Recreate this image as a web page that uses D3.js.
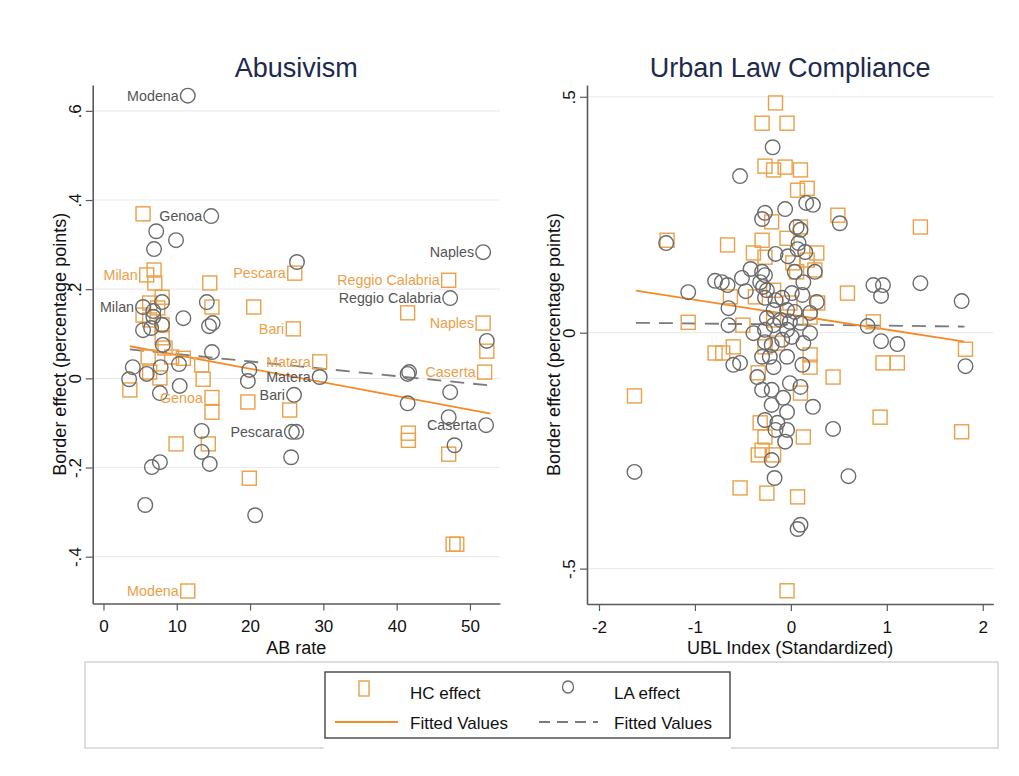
<!DOCTYPE html>
<html>
<head>
<meta charset="utf-8">
<script src="https://cdn.jsdelivr.net/npm/d3@7"></script>
<style>
  body { margin: 0; background: #fff; }
  svg { display: block; font-family: "Liberation Sans", Arial, Helvetica, sans-serif; }
</style>
</head>
<body>
<svg id="chart" width="1019" height="776"></svg>
<script>
// ---- data: [x, y, label] ----
// Abusivism panel (x = AB rate)
const hcAB = [
  [5.4, 0.369], [5.9, 0.232, "Milan"], [6.9, 0.243], [7.0, 0.214], [14.5, 0.214],
  [26.1, 0.236, "Pescara"], [47.1, 0.220, "Reggio Calabria"], [41.5, 0.147], [20.5, 0.160],
  [14.8, 0.160], [6.3, 0.169], [8.0, 0.182], [7.4, 0.158], [25.9, 0.111, "Bari"],
  [51.8, 0.124, "Naples"], [52.3, 0.061], [52.0, 0.014, "Caserta"], [29.5, 0.037, "Matera"],
  [5.4, 0.142], [6.3, 0.131], [8.0, 0.120], [8.0, 0.091], [8.4, 0.068], [6.1, 0.048],
  [9.3, 0.048], [10.9, 0.045], [13.4, 0.030], [13.6, -0.002], [7.7, 0.001], [3.6, -0.026],
  [6.3, 0.014], [14.8, -0.043, "Genoa"], [14.8, -0.076], [19.7, -0.053], [25.4, -0.071],
  [41.6, -0.123], [41.6, -0.139], [47.1, -0.170], [9.9, -0.147], [14.3, -0.147],
  [19.9, -0.224], [11.5, -0.477, "Modena"], [47.7, -0.372], [48.2, -0.372]
];
const laAB = [
  [11.5, 0.634, "Modena"], [14.7, 0.364, "Genoa"], [7.2, 0.330], [9.9, 0.310], [6.9, 0.290],
  [51.8, 0.283, "Naples"], [26.4, 0.261], [47.3, 0.180, "Reggio Calabria"], [5.4, 0.160, "Milan"],
  [6.8, 0.151], [8.0, 0.171], [6.8, 0.138], [5.4, 0.108], [6.5, 0.113], [8.0, 0.120],
  [10.9, 0.135], [14.1, 0.171], [14.4, 0.117], [14.9, 0.124], [8.1, 0.075], [14.8, 0.059],
  [4.0, 0.025], [5.9, 0.010], [7.8, 0.025], [10.3, 0.032], [3.5, -0.002], [7.7, -0.033],
  [10.4, -0.017], [19.9, 0.019], [19.7, -0.006], [29.5, 0.003, "Matera"], [26.0, -0.037, "Bari"],
  [41.7, 0.014], [41.5, 0.010], [47.3, -0.031], [52.3, 0.084], [41.5, -0.056], [47.1, -0.087],
  [52.2, -0.105, "Caserta"], [25.7, -0.120, "Pescara"], [26.3, -0.120], [13.4, -0.118],
  [13.4, -0.165], [14.5, -0.192], [6.6, -0.199], [7.7, -0.188], [25.6, -0.177], [47.9, -0.150],
  [5.7, -0.284], [20.7, -0.307]
];
const hcFitAB = [[3.6, 0.072], [52.8, -0.079]];
const laFitAB = [[3.6, 0.065], [52.8, -0.016]];

// Urban Law Compliance panel (x = UBL index)
const hcUBL = [
  [-0.16, 0.487], [-0.30, 0.444], [-0.04, 0.444], [-0.27, 0.353], [-0.18, 0.345], [-0.06, 0.351],
  [0.10, 0.345], [0.07, 0.302], [0.17, 0.306], [0.49, 0.249], [-0.66, 0.186], [-0.30, 0.196],
  [-0.20, 0.235], [-0.04, 0.200], [0.10, 0.224], [-0.39, 0.169], [-0.27, 0.160], [0.27, 0.169],
  [0.02, 0.148], [0.17, 0.154], [0.06, 0.129], [0.25, 0.133], [0.59, 0.084], [-0.63, 0.076],
  [-0.37, 0.076], [-0.18, 0.090], [-0.01, 0.063], [0.28, 0.063], [-1.07, 0.022], [-0.50, 0.016],
  [-0.18, 0.027], [0.20, 0.033], [-0.79, -0.043], [-0.71, -0.043], [-0.60, -0.030], [-0.27, -0.030],
  [-0.14, -0.022], [0.20, -0.047], [0.20, -0.073], [0.44, -0.094], [-0.34, -0.085], [0.10, -0.128],
  [-0.32, -0.191], [0.13, -0.221], [-0.27, -0.221], [-0.34, -0.259], [-0.30, -0.249], [-0.18, -0.259],
  [-0.53, -0.329], [-0.25, -0.340], [0.07, -0.348], [-0.04, -0.547], [-1.29, 0.196], [-1.63, -0.134],
  [1.35, 0.224], [0.86, 0.023], [1.82, -0.035], [0.96, -0.064], [1.11, -0.064], [0.93, -0.179],
  [1.78, -0.210]
];
const laUBL = [
  [-0.19, 0.393], [-0.53, 0.332], [0.16, 0.275], [0.23, 0.271], [-0.06, 0.262], [-0.27, 0.254],
  [-0.30, 0.241], [0.51, 0.232], [0.06, 0.224], [0.10, 0.218], [0.08, 0.190], [0.07, 0.177],
  [0.15, 0.171], [-0.16, 0.167], [-0.03, 0.162], [-0.42, 0.135], [-0.30, 0.129], [-0.27, 0.122],
  [0.04, 0.129], [0.25, 0.129], [-0.79, 0.110], [-0.72, 0.107], [-0.66, 0.101], [-0.51, 0.116],
  [-0.47, 0.088], [-0.32, 0.107], [-0.29, 0.097], [-0.25, 0.090], [0.13, 0.107], [-0.27, 0.074],
  [-0.16, 0.069], [-0.09, 0.074], [0.01, 0.084], [0.12, 0.080], [0.27, 0.065], [-1.07, 0.086],
  [-0.65, 0.052], [-0.18, 0.048], [-0.04, 0.048], [0.04, 0.044], [0.20, 0.042], [-0.25, 0.031],
  [-0.11, 0.027], [-0.01, 0.023], [0.10, 0.021], [-0.65, 0.016], [-0.39, -0.001], [-0.27, 0.006],
  [-0.18, 0.016], [-0.04, 0.006], [0.20, -0.001], [-0.27, -0.020], [-0.20, -0.026], [-0.09, -0.015],
  [0.01, -0.009], [0.13, -0.022], [-0.30, -0.051], [-0.22, -0.051], [-0.04, -0.051], [-0.60, -0.068],
  [-0.53, -0.064], [-0.18, -0.073], [0.12, -0.068], [-0.35, -0.094], [-0.01, -0.107], [0.10, -0.115],
  [-0.30, -0.121], [-0.20, -0.121], [-0.08, -0.138], [-0.20, -0.153], [-0.04, -0.168], [0.23, -0.157],
  [-0.27, -0.185], [-0.14, -0.191], [-0.04, -0.206], [-0.06, -0.231], [-0.16, -0.206], [0.44, -0.204],
  [-0.20, -0.270], [-0.17, -0.308], [0.60, -0.304], [0.10, -0.407], [0.07, -0.416], [-1.30, 0.190],
  [-1.63, -0.295], [0.86, 0.101], [0.96, 0.101], [0.94, 0.078], [1.35, 0.105], [1.78, 0.067],
  [0.80, 0.014], [0.94, -0.018], [1.11, -0.024], [1.82, -0.071]
];
const hcFitUBL = [[-1.615, 0.089], [1.81, -0.019]];
const laFitUBL = [[-1.615, 0.021], [1.81, 0.013]];

const yTicksAB = [-0.4, -0.2, 0, 0.2, 0.4, 0.6];
const yTickLabelsAB = ["-.4", "-.2", "0", ".2", ".4", ".6"];
const xTicksAB = [0, 10, 20, 30, 40, 50];
const yTicksUBL = [-0.5, 0, 0.5];
const yTickLabelsUBL = ["-.5", "0", ".5"];
const xTicksUBL = [-2, -1, 0, 1, 2];

const ORANGE = "#eaa048";
const ORANGE_LINE = "#f58a26";
const GREY = "#6a6a6a";

const svg = d3.select("#chart");

function panel(opt) {
  const x = d3.scaleLinear().domain(opt.xDomain).range(opt.xRange);
  const y = d3.scaleLinear().domain(opt.yDomain).range(opt.yRange);
  const g = svg.append("g");
  const [x0, x1] = opt.xRange;
  const [y0, y1] = opt.yRange;

  // grid
  g.selectAll(".grid").data(opt.yTicks).enter().append("line")
    .attr("x1", x0).attr("x2", x1)
    .attr("y1", d => y(d)).attr("y2", d => y(d))
    .attr("stroke", "#ececec").attr("stroke-width", 1.2);

  // y axis
  const ya = g.append("g").attr("transform", `translate(${x0},0)`)
    .call(d3.axisLeft(y).tickValues(opt.yTicks).tickSize(7).tickSizeOuter(0)
      .tickFormat((d, i) => opt.yTickLabels[i]));
  ya.select(".domain").attr("stroke", "#5a5a5a").attr("stroke-width", 1.6);
  ya.selectAll(".tick line").attr("stroke", "#5a5a5a").attr("stroke-width", 1.2);
  ya.selectAll(".tick text")
    .attr("font-size", 17).attr("fill", "#111")
    .attr("x", 0).attr("dy", 0)
    .attr("text-anchor", "middle")
    .attr("transform", "translate(-12,0) rotate(-90)");

  // x axis
  const xa = g.append("g").attr("transform", `translate(0,${y0})`)
    .call(d3.axisBottom(x).tickValues(opt.xTicks).tickSize(7).tickSizeOuter(0)
      .tickFormat(d => String(d)));
  xa.select(".domain").attr("stroke", "#5a5a5a").attr("stroke-width", 1.6);
  xa.selectAll(".tick line").attr("stroke", "#5a5a5a").attr("stroke-width", 1.2);
  xa.selectAll(".tick text").attr("font-size", 17).attr("fill", "#111").attr("dy", "1.1em");

  // titles
  const cx = (x0 + x1) / 2;
  g.append("text").attr("x", cx).attr("y", 77).attr("text-anchor", "middle")
    .attr("font-size", 27).attr("fill", "#1d2a4d").text(opt.title);
  g.append("text").attr("x", cx).attr("y", 654).attr("text-anchor", "middle")
    .attr("font-size", 18).attr("fill", "#111").text(opt.xLabel);
  g.append("text").attr("transform", `translate(${x0 - 27},${(y0 + y1) / 2}) rotate(-90)`)
    .attr("text-anchor", "middle").attr("font-size", 18).attr("fill", "#111")
    .text("Border effect (percentage points)");

  // fitted lines
  const line = d3.line().x(d => x(d[0])).y(d => y(d[1]));
  g.append("path").attr("d", line(opt.laFit)).attr("fill", "none")
    .attr("stroke", "#7a7a7a").attr("stroke-width", 1.8).attr("stroke-dasharray", "14,9");
  g.append("path").attr("d", line(opt.hcFit)).attr("fill", "none")
    .attr("stroke", ORANGE_LINE).attr("stroke-width", 1.8);

  // markers
  const s = 14;
  g.selectAll(".hc").data(opt.hc).enter().append("rect")
    .attr("x", d => x(d[0]) - s / 2).attr("y", d => y(d[1]) - s / 2)
    .attr("width", s).attr("height", s)
    .attr("fill", "none").attr("stroke", ORANGE).attr("stroke-width", 1.4);
  g.selectAll(".la").data(opt.la).enter().append("circle")
    .attr("cx", d => x(d[0])).attr("cy", d => y(d[1])).attr("r", 7.3)
    .attr("fill", "none").attr("stroke", GREY).attr("stroke-width", 1.4);

  // city labels
  g.selectAll(".hcl").data(opt.hc.filter(d => d[2])).enter().append("text")
    .attr("x", d => x(d[0]) - 9).attr("y", d => y(d[1]) + 5)
    .attr("text-anchor", "end").attr("font-size", 14.3).attr("fill", ORANGE).text(d => d[2]);
  g.selectAll(".lal").data(opt.la.filter(d => d[2])).enter().append("text")
    .attr("x", d => x(d[0]) - 9).attr("y", d => y(d[1]) + 5)
    .attr("text-anchor", "end").attr("font-size", 14.3).attr("fill", "#555").text(d => d[2]);
}

panel({
  title: "Abusivism", xLabel: "AB rate",
  xDomain: [-1.47, 54.1], xRange: [92.7, 500],
  yDomain: [-0.505, 0.658], yRange: [603.5, 85],
  yTicks: yTicksAB, yTickLabels: yTickLabelsAB, xTicks: xTicksAB,
  hc: hcAB, la: laAB, hcFit: hcFitAB, laFit: laFitAB
});
panel({
  title: "Urban Law Compliance", xLabel: "UBL Index (Standardized)",
  xDomain: [-2.125, 2.11], xRange: [587, 993.3],
  yDomain: [-0.575, 0.525], yRange: [604, 85],
  yTicks: yTicksUBL, yTickLabels: yTickLabelsUBL, xTicks: xTicksUBL,
  hc: hcUBL, la: laUBL, hcFit: hcFitUBL, laFit: laFitUBL
});

// legend frame
svg.append("rect").attr("x", 85).attr("y", 662).attr("width", 913).attr("height", 86)
  .attr("fill", "#fff").attr("stroke", "#c8c8c8").attr("stroke-width", 1.2);
svg.append("rect").attr("x", 324).attr("y", 738).attr("width", 407).attr("height", 12)
  .attr("fill", "#fff");
const lg = svg.append("g").attr("font-family", "'Liberation Sans Narrow', 'Arial Narrow', sans-serif")
  .attr("font-size", 17).attr("fill", "#111");
lg.append("rect").attr("x", 325).attr("y", 672).attr("width", 405).attr("height", 66)
  .attr("fill", "#fff").attr("stroke", "#444").attr("stroke-width", 1.4);
lg.append("rect").attr("x", 359).attr("y", 681).attr("width", 10).attr("height", 15)
  .attr("fill", "none").attr("stroke", ORANGE).attr("stroke-width", 1.4);
lg.append("ellipse").attr("cx", 568).attr("cy", 687).attr("rx", 5.5).attr("ry", 6)
  .attr("fill", "none").attr("stroke", GREY).attr("stroke-width", 1.3);
lg.append("line").attr("x1", 335).attr("x2", 398).attr("y1", 722).attr("y2", 722)
  .attr("stroke", ORANGE_LINE).attr("stroke-width", 1.8);
lg.append("line").attr("x1", 539).attr("x2", 598).attr("y1", 722).attr("y2", 722)
  .attr("stroke", "#7a7a7a").attr("stroke-width", 1.8).attr("stroke-dasharray", "11,7");
lg.append("text").attr("x", 410).attr("y", 699).text("HC effect");
lg.append("text").attr("x", 614).attr("y", 699).text("LA effect");
lg.append("text").attr("x", 410).attr("y", 729).text("Fitted Values");
lg.append("text").attr("x", 614).attr("y", 729).text("Fitted Values");
</script>
</body>
</html>
